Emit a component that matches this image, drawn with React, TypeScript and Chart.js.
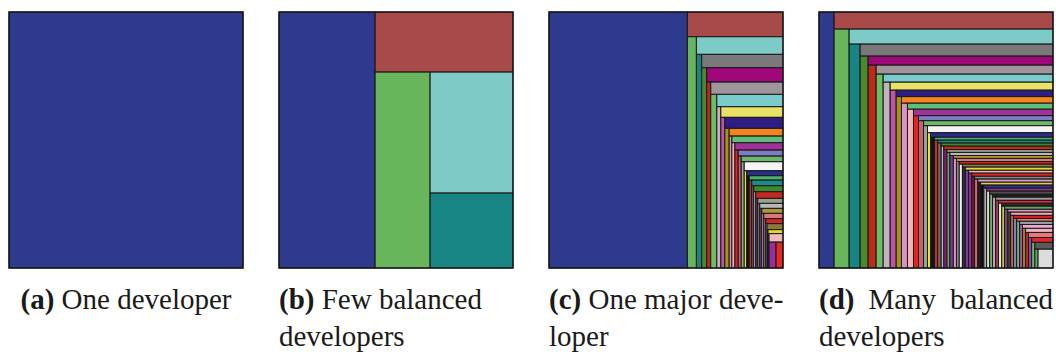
import React, { useEffect, useRef } from "react";
import { Chart, registerables } from "chart.js";

Chart.register(...registerables);

// ---- data: contribution (area) of each developer, in layout order ----
const panelA: number[] = [100];
const panelB: number[] = [24576, 8280, 10780, 10043, 6225];
const panelC: number[] = [
  35251, 2354, 2082, 1519, 1133, 1085, 1002, 1087, 744, 886, 1042, 818, 645, 657, 603, 638,
  601, 413, 356, 342, 376, 350, 389, 268, 336, 238, 319, 348, 243, 181, 231, 145, 220, 178,
  165, 175, 153, 180, 139, 126, 129, 116, 119, 106, 109, 102, 99, 86, 53, 96, 38, 60, 34,
  118, 182, 182,
];
const panelD: number[] = [
  3840, 3723, 3585, 3060, 2464, 2316, 1696, 1665, 1624, 1593, 1358, 1360, 1302, 1304, 1068,
  1020, 909, 986, 990, 874, 954, 908, 762, 673, 737, 648, 570, 880, 406, 552, 524, 341, 402,
  330, 437, 352, 318, 382, 371, 296, 338, 327, 394, 281, 342, 305, 296, 241, 327, 266, 289,
  279, 331, 238, 294, 256, 262, 221, 281, 233, 247, 209, 262, 214, 226, 192, 238, 201, 209,
  176, 221, 183, 197, 158, 203, 149, 178, 151, 184, 131, 162, 134, 151, 122, 157, 104, 137,
  106, 126, 118, 124, 112, 103, 126, 96, 101, 81, 124, 59, 284,
];

const captionTags: string[] = ["(a)", "(b)", "(c)", "(d)"];
const captionLine1: string[] = ["One developer", "Few balanced", "One major deve-", "Many balanced"];
const captionLine2: string[] = ["", "developers", "loper", "developers"];
const captionAlign: string[] = ["center", "left", "justify", "justify"];

const palette: string[] = [
  "#2E3A8E", "#A84A48", "#69B55B", "#7ECAC7", "#168584", "#7A7878", "#4A8A2C", "#A0087A",
  "#C02A1C", "#9E969A", "#6DBE63", "#7ACBCB", "#C2B2BE", "#E8E266", "#C052A8", "#2E1E84",
  "#A89414", "#F4841E", "#D892C8", "#5FBF7A", "#F2B4B8", "#A0329A", "#E22424", "#7C7EC4",
  "#C8606E", "#6BB86C", "#8FA89A", "#F4F4F4", "#EEE21C", "#2C2C8C", "#141414", "#4DB06A",
  "#B83030", "#1B8A8A", "#8A5A4A", "#3E8A2A", "#9FC8E0", "#C42A20", "#A01080", "#9AA090",
  "#58B058", "#B8B8B8", "#7A3A9A", "#A89838", "#E090C0", "#D87878", "#888888", "#D02828",
  "#F0F0F0", "#8C7A3C", "#3A2A3A", "#E6D630", "#7040A0", "#F2B8BE", "#9A2E98", "#E42A20",
  "#6A1A3A", "#8A8A8A", "#D06A6A", "#E8A0C8", "#2A1A22", "#E0D040", "#101010", "#34348E",
  "#B0B0B0", "#8A3A8A", "#D8D8D8", "#505050", "#70B870", "#1E1E1E", "#C0A0B0", "#9A9A9A",
  "#A04050", "#D83030", "#E8E8E8", "#3A2030", "#C8C840", "#60A860", "#7A4A7A", "#E890C0",
  "#404040", "#F0B0B8", "#C86040", "#E02020", "#8080C0", "#E07878", "#60C080", "#A0A0A0",
  "#B050A0", "#E8A8D0", "#A08020", "#F0B0C0", "#C02828", "#E87878", "#8A4AA0", "#E02828",
  "#70B870", "#5A5A5A", "#5FAF6A", "#DCDCDC",
];

const panels = [panelA, panelB, panelC, panelD];
const PANEL_W = 234;
const PANEL_H = 256;
const PANEL_TOP = 12;
const panelLefts = [9, 279, 549, 819];

type Rect = { x0: number; y0: number; x1: number; y1: number };

function sliceAndDice(values: number[]): Rect[] {
  let x0 = 0, y0 = 0, x1 = 1, y1 = 1;
  let remaining = values.reduce((a, b) => a + b, 0);
  const rects: Rect[] = [];
  values.forEach((v, i) => {
    if (i === values.length - 1) {
      rects.push({ x0, y0, x1, y1 });
      return;
    }
    const f = v / remaining;
    if (i % 2 === 0) {
      const xm = x0 + (x1 - x0) * f;
      rects.push({ x0, y0, x1: xm, y1 });
      x0 = xm;
    } else {
      const ym = y0 + (y1 - y0) * f;
      rects.push({ x0, y0, x1, y1: ym });
      y0 = ym;
    }
    remaining -= v;
  });
  return rects;
}

const treemapPlugin = {
  id: "treemapCells",
  afterDatasetsDraw(chart: any, _args: any, opts: any) {
    const { ctx } = chart;
    const xs = chart.scales.x;
    const ys = chart.scales.y;
    const rects = sliceAndDice(opts.values as number[]);
    const px = rects.map((r) => {
      const a = xs.getPixelForValue(r.x0);
      const b = xs.getPixelForValue(r.x1);
      const c = ys.getPixelForValue(r.y0);
      const d = ys.getPixelForValue(r.y1);
      return { l: Math.min(a, b), t: Math.min(c, d), w: Math.abs(b - a), h: Math.abs(d - c) };
    });
    ctx.save();
    px.forEach((p, i) => {
      ctx.fillStyle = palette[i % palette.length];
      ctx.fillRect(p.l, p.t, p.w, p.h);
    });
    ctx.strokeStyle = "rgba(22,22,22,0.9)";
    ctx.lineWidth = 0.9;
    px.forEach((p) => ctx.strokeRect(p.l, p.t, p.w, p.h));
    const area = chart.chartArea;
    ctx.lineWidth = 1.4;
    ctx.strokeStyle = "#151515";
    ctx.strokeRect(area.left, area.top, area.right - area.left, area.bottom - area.top);
    ctx.restore();
  },
};

function Panel({ values, left }: { values: number[]; left: number }) {
  const ref = useRef<HTMLCanvasElement | null>(null);
  useEffect(() => {
    if (!ref.current) return;
    const chart = new Chart(ref.current, {
      type: "scatter",
      data: { datasets: [] },
      options: {
        animation: false,
        responsive: false,
        events: [],
        layout: { padding: 1 },
        scales: {
          x: { type: "linear", min: 0, max: 1, display: false },
          y: { type: "linear", min: 0, max: 1, reverse: true, display: false },
        },
        plugins: {
          legend: { display: false },
          tooltip: { enabled: false },
          treemapCells: { values },
        } as any,
      },
      plugins: [treemapPlugin as any],
    });
    return () => chart.destroy();
  }, [values]);
  return (
    <canvas
      ref={ref}
      width={PANEL_W + 2}
      height={PANEL_H + 2}
      style={{ position: "absolute", left: left - 1, top: PANEL_TOP - 1, width: PANEL_W + 2, height: PANEL_H + 2 }}
    />
  );
}

export default function App() {
  return (
    <div style={{ position: "fixed", left: 0, top: 0, width: 1056, height: 353, background: "#fff", overflow: "hidden" }}>
      {panels.map((vals, i) => (
        <Panel key={i} values={vals} left={panelLefts[i]} />
      ))}
      {panels.map((_, i) => (
        <div
          key={"c" + i}
          style={{
            position: "absolute",
            left: panelLefts[i],
            top: 281,
            width: PANEL_W,
            fontFamily: "'Liberation Serif', 'Times New Roman', serif",
            fontSize: 29,
            lineHeight: "37px",
            color: "#1a1a1a",
          }}
        >
          <div
            style={{
              whiteSpace: "nowrap",
              textAlign: captionAlign[i],
              textAlignLast: captionAlign[i],
            } as any}
          >
            <b>{captionTags[i]}</b> {captionLine1[i]}
          </div>
          {captionLine2[i] ? <div>{captionLine2[i]}</div> : null}
        </div>
      ))}
    </div>
  );
}
